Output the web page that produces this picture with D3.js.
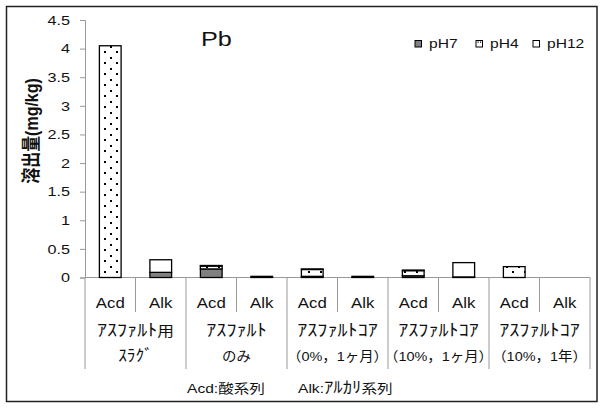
<!DOCTYPE html>
<html>
<head>
<meta charset="utf-8">
<script src="https://cdn.jsdelivr.net/npm/d3@7"></script>
<style>
  html, body { margin: 0; padding: 0; background: #fff; }
  svg { display: block; }
  text { font-family: "Liberation Sans", Arial, "Noto Sans CJK JP", sans-serif; fill: #111; }
</style>
</head>
<body>
<svg id="chart" width="600" height="411"></svg>
<script>
// Leaching amounts of Pb (mg/kg), one entry per test column
const categories = ["Acd", "Alk", "Acd", "Alk", "Acd", "Alk", "Acd", "Alk", "Acd", "Alk"];
const groupLabels = [
  ["ｱｽﾌｧﾙﾄ用", "ｽﾗｸﾞ"],
  ["ｱｽﾌｧﾙﾄ", "のみ"],
  ["ｱｽﾌｧﾙﾄｺｱ", "（0%，1ヶ月）"],
  ["ｱｽﾌｧﾙﾄｺｱ", "（10%，1ヶ月）"],
  ["ｱｽﾌｧﾙﾄｺｱ", "（10%，1年）"]
];
const seriesNames = ["pH7", "pH4", "pH12"];
const pH7  = [0.00, 0.09, 0.15, 0.02, 0.02, 0.02, 0.03, 0.01, 0.00, 0.00];
const pH4  = [4.05, 0.00, 0.05, 0.00, 0.12, 0.00, 0.09, 0.00, 0.19, 0.00];
const pH12 = [0.00, 0.22, 0.01, 0.00, 0.01, 0.00, 0.01, 0.25, 0.00, 0.00];
const yTicks = [0, 0.5, 1, 1.5, 2, 2.5, 3, 3.5, 4, 4.5];

const SX = 1.2; // horizontal text widening
const svg = d3.select("#chart");

const defs = svg.append("defs");
const pat = defs.append("pattern").attr("id", "dots")
  .attr("patternUnits", "userSpaceOnUse").attr("width", 12).attr("height", 11);
pat.append("rect").attr("width", 12).attr("height", 11).attr("fill", "#fff");
pat.append("rect").attr("x", 2).attr("y", 2).attr("width", 2).attr("height", 2).attr("fill", "#000");
pat.append("rect").attr("x", 8).attr("y", 7).attr("width", 2).attr("height", 2).attr("fill", "#000");

const fills = { pH7: "#808080", pH4: "url(#dots)", pH12: "#ffffff" };

// outer frame
svg.append("rect").attr("x", 6.5).attr("y", 6.5).attr("width", 590.5).attr("height", 395)
  .attr("fill", "#fff").attr("stroke", "#222").attr("stroke-width", 1.5);

const plotLeft = 85, plotRight = 590, plotTop = 20, plotBottom = 277.5;
const x = d3.scaleBand().domain(d3.range(categories.length)).range([plotLeft, plotRight])
  .paddingInner(0.57).paddingOuter(0.285);
const y = d3.scaleLinear().domain([0, 4.5]).range([plotBottom, plotTop]);

// y axis
const yAxis = svg.append("g").attr("transform", `translate(${plotLeft},0)`)
  .call(d3.axisLeft(y).tickValues(yTicks).tickSize(5).tickPadding(8)
    .tickFormat(d => String(d)));
yAxis.selectAll("path, line").attr("stroke", "#999");
yAxis.selectAll("text")
  .attr("font-size", 13.5).attr("fill", "#111")
  .attr("font-family", '"Liberation Sans", Arial, sans-serif')
  .attr("x", -15 / SX).attr("transform", `scale(${SX},1)`);

// x axis baseline
svg.append("line").attr("x1", plotLeft).attr("x2", plotRight).attr("y1", y(0)).attr("y2", y(0))
  .attr("stroke", "#999");

// separators between columns (short) and between groups (long)
const step = x.step();
d3.range(categories.length + 1).forEach(i => {
  const xx = plotLeft + i * step;
  svg.append("line").attr("x1", xx).attr("x2", xx).attr("y1", y(0))
    .attr("y2", i % 2 === 0 ? 369 : 312).attr("stroke", "#999");
});

// stacked bars
const rows = categories.map((c, i) => ({ i, pH7: pH7[i], pH4: pH4[i], pH12: pH12[i] }));
const stack = d3.stack().keys(seriesNames)(rows);
stack.forEach(layer => {
  svg.append("g").selectAll("rect").data(layer.filter(d => d[1] - d[0] > 0)).join("rect")
    .attr("x", d => x(d.data.i)).attr("width", x.bandwidth())
    .attr("y", d => y(d[1])).attr("height", d => y(d[0]) - y(d[1]))
    .attr("fill", fills[layer.key]).attr("stroke", "#000").attr("stroke-width", 1.3);
});

// text helper: half-width katakana runs are set a little larger so they read at full height
const KANA = /([\uFF61-\uFF9F]+)/;
function label(txt, px, py, size, anchor, sx = SX) {
  const t = svg.append("text")
    .attr("transform", `translate(${px},${py}) scale(${sx},1)`)
    .attr("text-anchor", anchor).attr("font-size", size);
  txt.split(KANA).filter(s => s.length).forEach(part => {
    t.append("tspan").attr("font-size", KANA.test(part) ? size * 1.2 : size).text(part);
  });
  return t;
}

// column labels
categories.forEach((c, i) => {
  label(c, x(i) + x.bandwidth() / 2, 308, 14, "middle");
});
// group labels
groupLabels.forEach((lines, g) => {
  const cx = plotLeft + (2 * g + 1) * step;
  label(lines[0], cx, 336, 14, "middle");
  label(lines[1], cx, 361, 13.5, "middle", 1.07);
});

// footnote
label("Acd:酸系列", 187, 393, 13, "start");
label("Alk:ｱﾙｶﾘ系列", 298, 393, 13, "start");

// title
label("Pb", 201, 46, 21, "start");

// y title
svg.append("text")
  .attr("transform", `translate(38,131) rotate(-90) scale(1,${SX})`)
  .attr("text-anchor", "middle").attr("font-size", 16).attr("font-weight", "bold")
  .text("溶出量(mg/kg)");

// legend
const legendX = [415, 476, 533];
seriesNames.forEach((s, k) => {
  svg.append("rect").attr("x", legendX[k]).attr("y", 40.5).attr("width", 6.5).attr("height", 6.5)
    .attr("fill", s === "pH4" ? "#fff" : fills[s]).attr("stroke", "#000").attr("stroke-width", 1);
  if (s === "pH4") {
    [1.5, 4].forEach(dx => svg.append("rect").attr("x", legendX[k] + dx).attr("y", 41.5)
      .attr("width", 1.2).attr("height", 1.2).attr("fill", "#000"));
  }
  label(s, legendX[k] + 14, 48, 13, "start");
});
</script>
</body>
</html>
